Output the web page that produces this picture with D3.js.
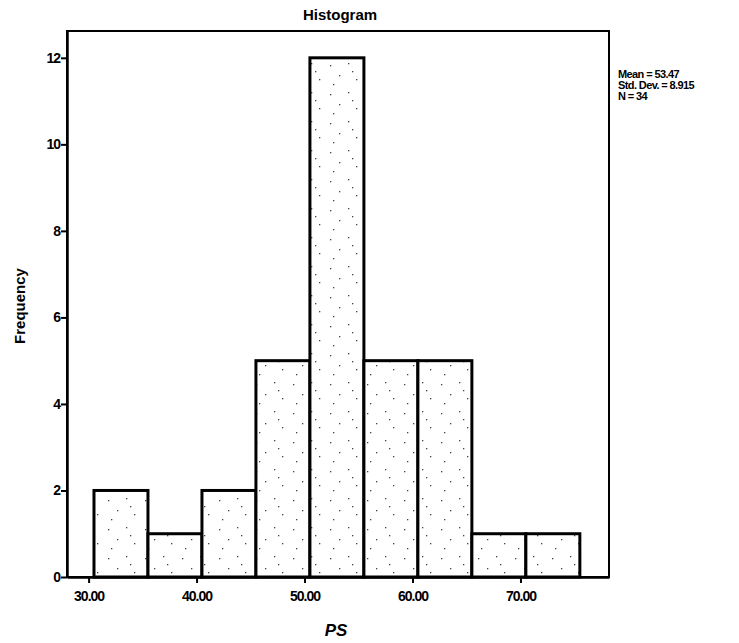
<!DOCTYPE html>
<html>
<head>
<meta charset="utf-8">
<script src="https://cdn.jsdelivr.net/npm/d3@7"></script>
<style>
  body { margin: 0; background: #fff; }
  text { font-family: "Liberation Sans", Arial, sans-serif; fill: #000; }
</style>
</head>
<body>
<div id="wrapper"></div>
<script>
// bins of PS (lower edge), width 5
const binStarts = [30.5, 35.5, 40.5, 45.5, 50.5, 55.5, 60.5, 65.5, 70.5];
const binWidth = 5;
const counts = [2, 1, 2, 5, 12, 5, 5, 1, 1];
const xTicks = [30, 40, 50, 60, 70];
const yTicks = [0, 2, 4, 6, 8, 10, 12];
const statsLines = ["Mean = 53.47", "Std. Dev. = 8.915", "N = 34"];

const dimensions = {
  width: 739,
  height: 643,
  margin: { top: 31, right: 130, bottom: 66, left: 67 },
};
dimensions.boundedWidth = dimensions.width - dimensions.margin.left - dimensions.margin.right;
dimensions.boundedHeight = dimensions.height - dimensions.margin.top - dimensions.margin.bottom;

const svg = d3.select("#wrapper")
  .append("svg")
  .attr("width", dimensions.width)
  .attr("height", dimensions.height);

// sparse stipple texture for the bars
const pattern = svg.append("defs")
  .append("pattern")
  .attr("id", "stipple")
  .attr("patternUnits", "userSpaceOnUse")
  .attr("width", 37)
  .attr("height", 29);
pattern.append("rect").attr("width", 37).attr("height", 29).attr("fill", "#fff");
[[4, 5], [22, 3], [13, 15], [30, 19], [7, 24], [26, 11]].forEach(([px, py]) => {
  pattern.append("rect")
    .attr("x", px).attr("y", py)
    .attr("width", 1.3).attr("height", 1.3)
    .attr("fill", "#444");
});

const bounds = svg.append("g")
  .attr("transform", `translate(${dimensions.margin.left},${dimensions.margin.top})`);

const xScale = d3.scaleLinear()
  .domain([28, 78.2])
  .range([0, dimensions.boundedWidth]);

const yScale = d3.scaleLinear()
  .domain([0, 12.62])
  .range([dimensions.boundedHeight, 0]);

// bars
bounds.append("g")
  .selectAll("rect")
  .data(counts)
  .join("rect")
  .attr("x", (d, i) => xScale(binStarts[i]))
  .attr("y", (d) => yScale(d))
  .attr("width", (d, i) => xScale(binStarts[i] + binWidth) - xScale(binStarts[i]))
  .attr("height", (d) => yScale(0) - yScale(d))
  .attr("fill", "url(#stipple)")
  .attr("stroke", "#000")
  .attr("stroke-width", 3);

// frame
bounds.append("rect")
  .attr("width", dimensions.boundedWidth)
  .attr("height", dimensions.boundedHeight)
  .attr("fill", "none")
  .attr("stroke", "#000")
  .attr("stroke-width", 2);

const xAxis = bounds.append("g")
  .attr("transform", `translate(0,${dimensions.boundedHeight})`)
  .call(d3.axisBottom(xScale).tickValues(xTicks).tickFormat(d3.format(".2f")).tickSize(6).tickSizeOuter(0));
xAxis.select(".domain").attr("stroke-width", 2.5);
xAxis.selectAll(".tick line").attr("stroke-width", 2);
xAxis.selectAll("text")
  .attr("dy", "1.05em")
  .style("font-size", "14px")
  .style("font-weight", "bold")
  .style("letter-spacing", "-1px");

const yAxis = bounds.append("g")
  .call(d3.axisLeft(yScale).tickValues(yTicks).tickFormat(d3.format("d")).tickSize(6).tickSizeOuter(0));
yAxis.select(".domain").attr("stroke-width", 2.5);
yAxis.selectAll(".tick line").attr("stroke-width", 2);
yAxis.selectAll("text")
  .attr("x", -7)
  .style("font-size", "14px")
  .style("font-weight", "bold")
  .style("letter-spacing", "-1px");

// title and axis labels
svg.append("text")
  .attr("x", 340)
  .attr("y", 20)
  .attr("text-anchor", "middle")
  .style("font-size", "15px")
  .style("font-weight", "bold")
  .text("Histogram");

svg.append("text")
  .attr("x", 336)
  .attr("y", 636)
  .attr("text-anchor", "middle")
  .style("font-size", "17px")
  .style("font-weight", "bold")
  .style("font-style", "italic")
  .text("PS");

svg.append("text")
  .attr("transform", "translate(25,306) rotate(-90)")
  .attr("text-anchor", "middle")
  .style("font-size", "15px")
  .style("font-weight", "bold")
  .text("Frequency");

// stats box
svg.append("g")
  .selectAll("text")
  .data(statsLines)
  .join("text")
  .attr("x", 618)
  .attr("y", (d, i) => 78 + i * 11)
  .style("font-size", "11px")
  .style("font-weight", "bold")
  .style("letter-spacing", "-0.6px")
  .text((d) => d);
</script>
</body>
</html>
